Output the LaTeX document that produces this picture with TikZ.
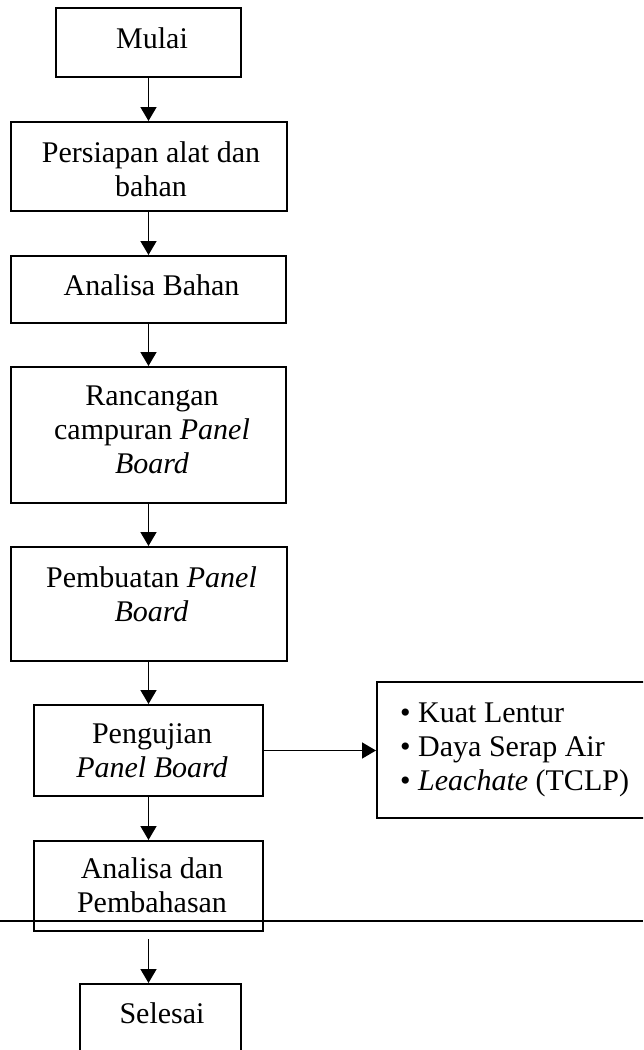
\documentclass[tikz,border=0pt]{standalone}
\usepackage{fontspec}
\setmainfont{Liberation Serif}
\usetikzlibrary{arrows.meta}
\begin{document}
\begin{tikzpicture}[x=1pt,y=-1pt,
  box/.style={draw, line width=2pt, inner sep=0pt},
  txt/.style={font=\fontsize{30}{34}\selectfont, align=center, inner sep=0pt, anchor=north},
  flow/.style={line width=1.6pt, -{Triangle[length=14pt,width=16pt]}},
  rule/.style={line width=1.2pt}
]
\path[use as bounding box, clip] (0,0) rectangle (643,1050);

% boxes
\node[box, minimum width=185pt, minimum height=69pt]  (mulai)      at (148.5,42.5)  {};
\node[box, minimum width=276pt, minimum height=89pt]  (persiapan)  at (148.5,166.5) {};
\node[box, minimum width=275pt, minimum height=67pt]  (analisa)    at (148.5,289.5) {};
\node[box, minimum width=275pt, minimum height=136pt] (rancangan)  at (148.5,435)   {};
\node[box, minimum width=276pt, minimum height=114pt] (pembuatan)  at (148.5,604)   {};
\node[box, minimum width=229pt, minimum height=91pt]  (pengujian)  at (148.5,750.5) {};
\node[box, minimum width=343pt, minimum height=136pt] (tests)      at (548.5,750)   {};
\node[box, minimum width=229pt, minimum height=90pt]  (analisadan) at (148.5,886)   {};
\node[box, minimum width=161pt, minimum height=116pt] (selesai)    at (160.5,1042)  {};

% texts
\node[txt] (tmulai)     at (152,24.2)  {\strut Mulai};
\node[txt] (tpersiapan) at (151,138.2) {\strut Persiapan alat dan\\bahan};
\node[txt] (tanalisa)   at (151.5,271.2) {\strut Analisa Bahan};
\node[txt] (trancangan) at (152,381.2) {\strut Rancangan\\campuran \textit{Panel}\\\textit{Board}};
\node[txt] (tpembuatan) at (151.5,563.2) {\strut Pembuatan \textit{Panel}\\\textit{Board}};
\node[txt] (tpengujian) at (152,719.2) {\strut Pengujian\\\textit{Panel Board}};
\node[txt, align=left, anchor=north west] (ttests) at (400,698.2)
  {\strut • Kuat Lentur\\• Daya Serap Air\\• \textit{Leachate} (TCLP)};
\node[txt] (tanalisadan) at (152,854.2) {\strut Analisa dan\\Pembahasan};
\node[txt] (tselesai)   at (162,999.2) {\strut Selesai};

% connectors
\draw[flow] (mulai.south) -- (mulai.south |- persiapan.north);
\draw[flow] (persiapan.south) -- (persiapan.south |- analisa.north);
\draw[flow] (analisa.south) -- (analisa.south |- rancangan.north);
\draw[flow] (rancangan.south) -- (rancangan.south |- pembuatan.north);
\draw[flow] (pembuatan.south) -- (pembuatan.south |- pengujian.north);
\draw[flow] (pengujian.south) -- (pengujian.south |- analisadan.north);
\draw[flow] (pengujian.east) -- (pengujian.east -| tests.west);
\draw[flow] ([yshift=-7pt]analisadan.south) -- (analisadan.south |- selesai.north);

% horizontal page rule
\draw[rule] (0,921) -- (643,921);
\end{tikzpicture}
\end{document}
